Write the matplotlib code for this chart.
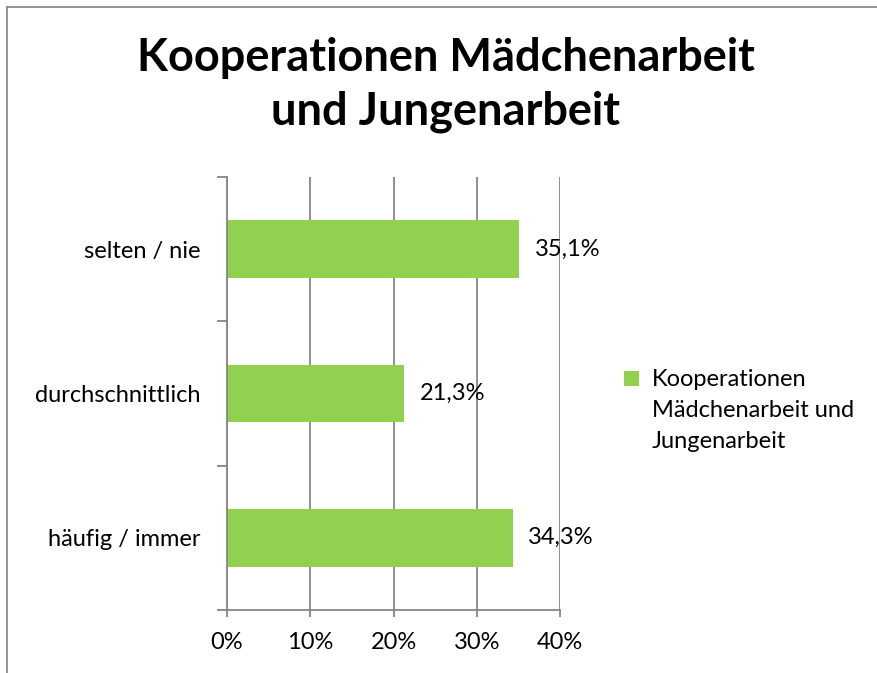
import matplotlib
matplotlib.use("Agg")
import matplotlib.pyplot as plt
from matplotlib.lines import Line2D
from matplotlib.patches import Patch

categories = ["häufig / immer", "durchschnittlich", "selten / nie"]
values = [34.3, 21.3, 35.1]
value_labels = ["34,3%", "21,3%", "35,1%"]
xticks = [0, 10, 20, 30, 40]
xtick_labels = ["0%", "10%", "20%", "30%", "40%"]
title = "Kooperationen Mädchenarbeit\nund Jungenarbeit"
series_name = "Kooperationen\nMädchenarbeit und\nJungenarbeit"

FONT = "Lato"
FS = 17
GREEN = "#92D050"
GRAY = "#868686"

W, H = 877, 673
fig = plt.figure(figsize=(W / 100, H / 100), dpi=100)

# outer chart border (only left and top visible in the reference crop)
bx, by = 6.5 / W, 1 - 6.5 / H
fig.add_artist(Line2D([bx, bx], [0, by], transform=fig.transFigure,
                      color="#8c8c8c", linewidth=1.3))
fig.add_artist(Line2D([bx, 1.02], [by, by], transform=fig.transFigure,
                      color="#8c8c8c", linewidth=1.3))

ax = fig.add_axes([227 / W, (H - 610) / H, (560 - 227) / W, (610 - 177) / H])

ypos = list(range(len(categories)))
ax.barh(ypos, values, height=0.4, color=GREEN, zorder=3)

ax.set_xlim(0, 40)
ax.set_ylim(-0.5, len(categories) - 0.5)

ax.set_xticks(xticks)
ax.set_xticklabels(xtick_labels, fontfamily=FONT, fontsize=FS)
ax.tick_params(axis="x", direction="out", length=5, width=1.3, color=GRAY, pad=11)

ax.set_yticks(ypos)
ax.set_yticklabels(categories, fontfamily=FONT, fontsize=FS)
ax.tick_params(axis="y", which="major", length=0, pad=19)
ax.set_yticks([y - 0.5 for y in ypos] + [len(categories) - 0.5], minor=True)
ax.tick_params(axis="y", which="minor", direction="out", length=7.2, width=1.3, color=GRAY)

ax.grid(axis="x", color=GRAY, linewidth=1.3, zorder=0)
ax.set_axisbelow(True)
for s in ["top", "right"]:
    ax.spines[s].set_visible(False)
for s in ["left", "bottom"]:
    ax.spines[s].set_color(GRAY)
    ax.spines[s].set_linewidth(1.3)
    ax.spines[s].set_zorder(4)

for y, v, lab in zip(ypos, values, value_labels):
    ax.annotate(lab, xy=(v, y), xytext=(11, 0), textcoords="offset points",
                ha="left", va="center", fontfamily=FONT, fontsize=FS, zorder=5,
                annotation_clip=False)

fig.text(446 / W, 1 - 85 / H, title, ha="center", va="center",
         fontfamily=FONT, fontweight="bold", fontsize=32.5, linespacing=1.36)

leg = fig.legend(handles=[Patch(facecolor=GREEN, edgecolor="none")], labels=[series_name],
                 loc="upper left", bbox_to_anchor=(624 / W, 1 - 369 / H),
                 frameon=False, prop={"family": FONT, "size": FS},
                 handlelength=0.62, handleheight=0.62, handletextpad=0.55, borderpad=0,
                 borderaxespad=0)
leg.get_texts()[0].set_linespacing(1.58)
h = leg.legend_handles[0]
h.set_y(h.get_y() + 23.0)

fig.savefig("out.png", dpi=100)
